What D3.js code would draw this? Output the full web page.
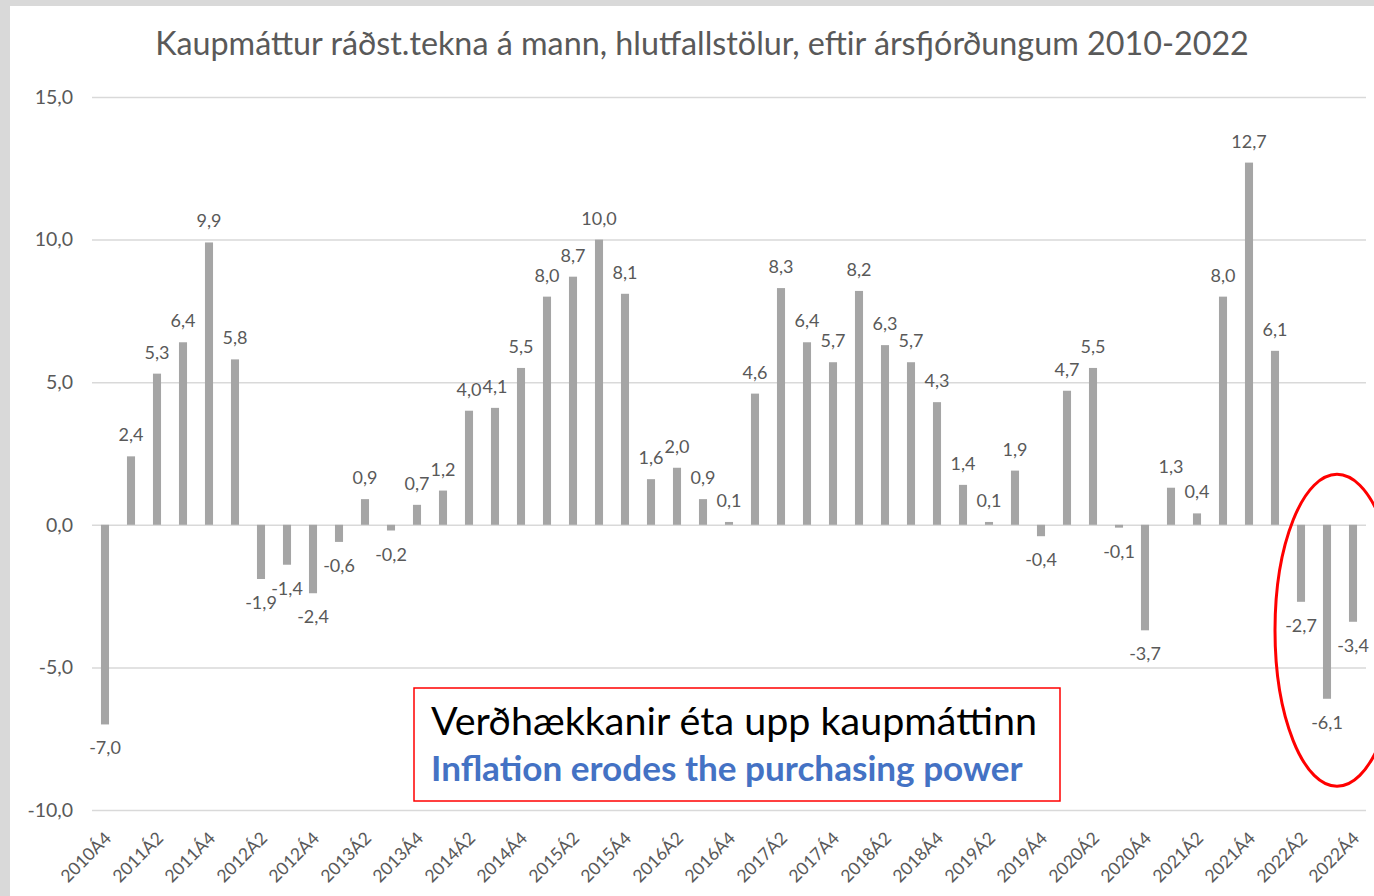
<!DOCTYPE html>
<html>
<head>
<meta charset="utf-8">
<script src="https://cdn.jsdelivr.net/npm/d3@7"></script>
<style>
body { margin: 0; background: #d9d9d9; }
svg { display: block; font-family: Lato, "Open Sans", sans-serif; }
</style>
</head>
<body>
<svg id="chart"></svg>
<script>
const quarters = [
    "2010Á4",
    "2011Á1", "2011Á2", "2011Á3", "2011Á4",
    "2012Á1", "2012Á2", "2012Á3", "2012Á4",
    "2013Á1", "2013Á2", "2013Á3", "2013Á4",
    "2014Á1", "2014Á2", "2014Á3", "2014Á4",
    "2015Á1", "2015Á2", "2015Á3", "2015Á4",
    "2016Á1", "2016Á2", "2016Á3", "2016Á4",
    "2017Á1", "2017Á2", "2017Á3", "2017Á4",
    "2018Á1", "2018Á2", "2018Á3", "2018Á4",
    "2019Á1", "2019Á2", "2019Á3", "2019Á4",
    "2020Á1", "2020Á2", "2020Á3", "2020Á4",
    "2021Á1", "2021Á2", "2021Á3", "2021Á4",
    "2022Á1", "2022Á2", "2022Á3", "2022Á4",
]
const values = [
    -7.0,
    2.4, 5.3, 6.4, 9.9,
    5.8, -1.9, -1.4, -2.4,
    -0.6, 0.9, -0.2, 0.7,
    1.2, 4.0, 4.1, 5.5,
    8.0, 8.7, 10.0, 8.1,
    1.6, 2.0, 0.9, 0.1,
    4.6, 8.3, 6.4, 5.7,
    8.2, 6.3, 5.7, 4.3,
    1.4, 0.1, 1.9, -0.4,
    4.7, 5.5, -0.1, -3.7,
    1.3, 0.4, 8.0, 12.7,
    6.1, -2.7, -6.1, -3.4,
]
const yTicks = [-10, -5, 0, 5, 10, 15]
const xTicks = quarters.filter((q, i) => i % 2 === 0)
const titleText = "Kaupmáttur ráðst.tekna á mann, hlutfallstölur, eftir ársfjórðungum 2010-2022"
const noteIs = "Verðhækkanir éta upp kaupmáttinn"
const noteEn = "Inflation erodes the purchasing power"

const data = quarters.map((q, i) => ({ q: q, v: values[i] }))

const width = 1374, height = 896
const margin = { top: 97, bottom: 86, left: 92, right: 8 }

const isl = d3.formatLocale({ decimal: ",", thousands: ".", grouping: [3], currency: ["", " kr."], minus: "-" })
const fmt = isl.format(".1f")

const svg = d3.select("svg#chart")
    .attr("width", width)
    .attr("height", height)
    .attr("viewBox", [0, 0, width, height])

// white chart area, grey frame left/top
svg.append("rect")
    .attr("x", 10).attr("y", 6)
    .attr("width", width - 10).attr("height", height - 6)
    .attr("fill", "#ffffff")

const xScale = d3.scaleBand()
    .domain(quarters)
    .range([margin.left, width - margin.right])
    .paddingInner(0.69)
    .paddingOuter(0.345)

const yScale = d3.scaleLinear()
    .domain([-10, 15])
    .range([height - margin.bottom, margin.top])

// y axis + gridlines
const yAxis = svg.append("g")
    .attr("transform", `translate(${margin.left}, 0)`)
    .call(d3.axisLeft(yScale)
        .tickValues(yTicks)
        .tickFormat(fmt)
        .tickSize(-(width - margin.left - margin.right))
        .tickPadding(19))
yAxis.select(".domain").remove()
yAxis.selectAll("line").attr("stroke", "#d9d9d9").attr("stroke-width", 1.5)
yAxis.selectAll("text")
    .attr("fill", "#595959")
    .attr("font-size", 19.5)
    .attr("font-family", "Lato, 'Open Sans', sans-serif")

// x axis labels
const xAxis = svg.append("g")
    .attr("transform", `translate(0, ${height - margin.bottom})`)
    .call(d3.axisBottom(xScale).tickValues(xTicks).tickSize(0))
xAxis.select(".domain").remove()
xAxis.selectAll("text")
    .attr("x", 0).attr("y", 0)
    .attr("dy", "0.35em")
    .attr("transform", "translate(3, 25) rotate(-45)")
    .style("text-anchor", "end")
    .attr("fill", "#595959")
    .attr("font-size", 17.5)
    .attr("font-family", "Lato, 'Open Sans', sans-serif")

// bars
svg.selectAll("rect.bar")
    .data(data)
    .join("rect").attr("class", "bar")
    .attr("x", d => xScale(d.q))
    .attr("width", xScale.bandwidth())
    .attr("y", d => yScale(Math.max(0, d.v)))
    .attr("height", d => Math.abs(yScale(d.v) - yScale(0)))
    .attr("fill", "#a5a5a5")

// value labels
svg.selectAll("text.val")
    .data(data)
    .join("text").attr("class", "val")
    .attr("x", d => xScale(d.q) + xScale.bandwidth() / 2)
    .attr("y", d => d.v >= 0 ? yScale(d.v) - 15 : yScale(d.v) + 30)
    .attr("text-anchor", "middle")
    .attr("font-size", 18)
    .attr("fill", "#595959")
    .text(d => fmt(d.v))

function fitWidth(sel, w) {
    const fs = parseFloat(sel.attr("font-size"))
    const len = sel.node().getComputedTextLength()
    sel.attr("font-size", fs * w / len)
}

// title
const title = svg.append("text")
    .attr("x", 702)
    .attr("y", 55)
    .attr("text-anchor", "middle")
    .attr("font-size", 30)
    .attr("fill", "#595959")
    .text(titleText)
fitWidth(title, 1094)

// note box
svg.append("rect")
    .attr("x", 414).attr("y", 688)
    .attr("width", 646).attr("height", 113)
    .attr("fill", "#ffffff")
    .attr("stroke", "#ff0000")
    .attr("stroke-width", 1.5)

const note1 = svg.append("text")
    .attr("x", 431).attr("y", 735)
    .attr("font-size", 36)
    .attr("fill", "#000000")
    .text(noteIs)
fitWidth(note1, 606)

const note2 = svg.append("text")
    .attr("x", 431).attr("y", 781)
    .attr("font-size", 30)
    .attr("font-weight", "bold")
    .attr("fill", "#4472c4")
    .text(noteEn)
fitWidth(note2, 592)

// red ellipse round the 2022 quarters
svg.append("ellipse")
    .attr("cx", xScale("2022Á3") + xScale.bandwidth() / 2 + 10)
    .attr("cy", yScale(-3.7))
    .attr("rx", 62)
    .attr("ry", 156)
    .attr("fill", "none")
    .attr("stroke", "#ff0000")
    .attr("stroke-width", 3)
</script>
</body>
</html>
